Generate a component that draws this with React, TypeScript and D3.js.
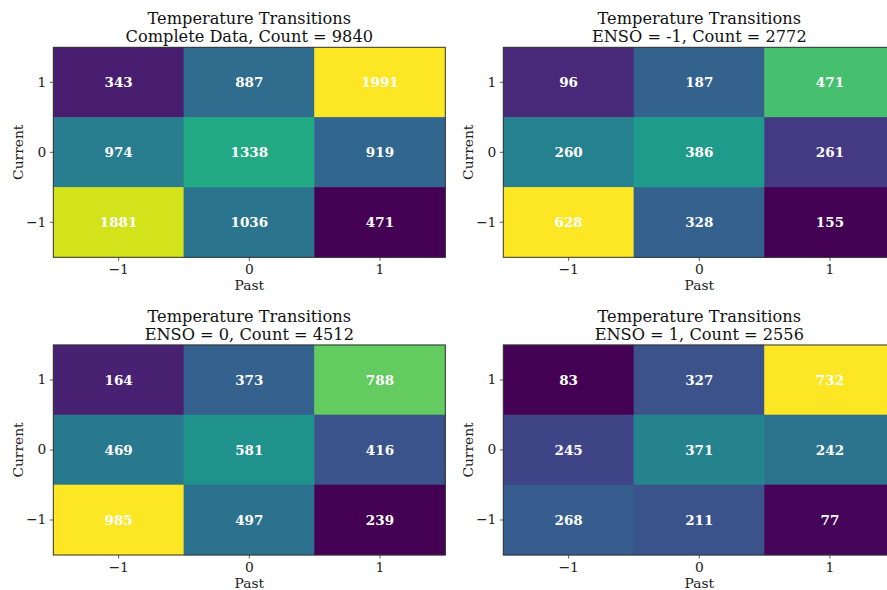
import React, { useEffect, useRef } from "react";
import * as d3 from "d3";

// Tick categories
const pastLabels = ["-1", "0", "1"];
const currentLabels = ["1", "0", "-1"]; // top to bottom
const tickText: Record<string, string> = { "-1": "\u22121", "0": "0", "1": "1" };

// Counts as shown in each cell (rows: Current 1,0,-1 ; cols: Past -1,0,1)
const completeCounts = [
  [343, 887, 1991],
  [974, 1338, 919],
  [1881, 1036, 471],
];
const ensoNeg1Counts = [
  [96, 187, 471],
  [260, 386, 261],
  [628, 328, 155],
];
const enso0Counts = [
  [164, 373, 788],
  [469, 581, 416],
  [985, 497, 239],
];
const enso1Counts = [
  [83, 327, 732],
  [245, 371, 242],
  [268, 211, 77],
];

const panelTitles = [
  ["Temperature Transitions", "Complete Data, Count = 9840"],
  ["Temperature Transitions", "ENSO = -1, Count = 2772"],
  ["Temperature Transitions", "ENSO = 0, Count = 4512"],
  ["Temperature Transitions", "ENSO = 1, Count = 2556"],
];
const panelCounts = [completeCounts, ensoNeg1Counts, enso0Counts, enso1Counts];

const W = 887;
const H = 590;
const FONT = "'DejaVu Serif', serif";

export default function App() {
  const ref = useRef<SVGSVGElement | null>(null);

  useEffect(() => {
    const svg = d3.select(ref.current);
    svg.selectAll("*").remove();

    const lefts = [53.3, 503.3];
    const tops = [47.3, 345];
    const pw = 392;
    const ph = 210;

    panelCounts.forEach((counts, i) => {
      const x0 = lefts[i % 2];
      const y0 = tops[Math.floor(i / 2)];
      const g = svg.append("g").attr("transform", `translate(${x0},${y0})`);

      const x = d3.scaleBand<string>().domain(pastLabels).range([0, pw]);
      const y = d3.scaleBand<string>().domain(currentLabels).range([0, ph]);

      const flat = counts.flat();
      const color = d3
        .scaleSequential(d3.interpolateViridis)
        .domain([d3.min(flat) as number, d3.max(flat) as number]);

      const cells: { r: number; c: number; v: number; cv: number }[] = [];
      counts.forEach((row, r) =>
        row.forEach((v, c) => {
          // In the reference the colour grid is the count grid mirrored about its anti-diagonal
          cells.push({ r, c, v, cv: counts[2 - c][2 - r] });
        })
      );

      g.selectAll("rect.cell")
        .data(cells)
        .enter()
        .append("rect")
        .attr("x", (d) => x(pastLabels[d.c])!)
        .attr("y", (d) => y(currentLabels[d.r])!)
        .attr("width", x.bandwidth())
        .attr("height", y.bandwidth())
        .attr("fill", (d) => color(d.cv))
        .attr("stroke", (d) => color(d.cv))
        .attr("stroke-width", 0.6);

      g.selectAll("text.val")
        .data(cells)
        .enter()
        .append("text")
        .attr("x", (d) => x(pastLabels[d.c])! + x.bandwidth() / 2)
        .attr("y", (d) => y(currentLabels[d.r])! + y.bandwidth() / 2)
        .attr("dy", "0.36em")
        .attr("text-anchor", "middle")
        .attr("fill", "white")
        .attr("font-family", FONT)
        .attr("font-weight", "bold")
        .attr("font-size", 13.5)
        .text((d) => String(d.v));

      g.append("rect")
        .attr("x", 0)
        .attr("y", 0)
        .attr("width", pw)
        .attr("height", ph)
        .attr("fill", "none")
        .attr("stroke", "#333")
        .attr("stroke-width", 1);

      const xAxis = g
        .append("g")
        .attr("transform", `translate(0,${ph})`)
        .call(d3.axisBottom(x).tickSize(3.5).tickPadding(3.5).tickFormat((d) => tickText[d]));
      const yAxis = g
        .append("g")
        .call(d3.axisLeft(y).tickSize(3.5).tickPadding(3.5).tickFormat((d) => tickText[d]));
      [xAxis, yAxis].forEach((a) => {
        a.select(".domain").remove();
        a.selectAll("line").attr("stroke", "#333").attr("stroke-width", 0.8);
        a.selectAll("text")
          .attr("font-family", FONT)
          .attr("font-size", 13.8)
          .attr("fill", "#222");
      });

      g.append("text")
        .attr("x", pw / 2)
        .attr("y", ph + 33)
        .attr("text-anchor", "middle")
        .attr("font-family", FONT)
        .attr("font-size", 13.8)
        .attr("fill", "#222")
        .text("Past");

      g.append("text")
        .attr("transform", `translate(${-30.5},${ph / 2}) rotate(-90)`)
        .attr("text-anchor", "middle")
        .attr("font-family", FONT)
        .attr("font-size", 13.8)
        .attr("fill", "#222")
        .text("Current");

      const [t1, t2] = panelTitles[i];
      g.append("text")
        .attr("x", pw / 2)
        .attr("y", -23.5)
        .attr("text-anchor", "middle")
        .attr("font-family", FONT)
        .attr("font-size", 16.2)
        .attr("fill", "#111")
        .text(t1);
      g.append("text")
        .attr("x", pw / 2)
        .attr("y", -5.5)
        .attr("text-anchor", "middle")
        .attr("font-family", FONT)
        .attr("font-size", 16.2)
        .attr("fill", "#111")
        .text(t2);
    });
  }, []);

  return (
    <svg
      ref={ref}
      width={W}
      height={H}
      style={{ position: "absolute", left: 0, top: 0, background: "white" }}
    />
  );
}
